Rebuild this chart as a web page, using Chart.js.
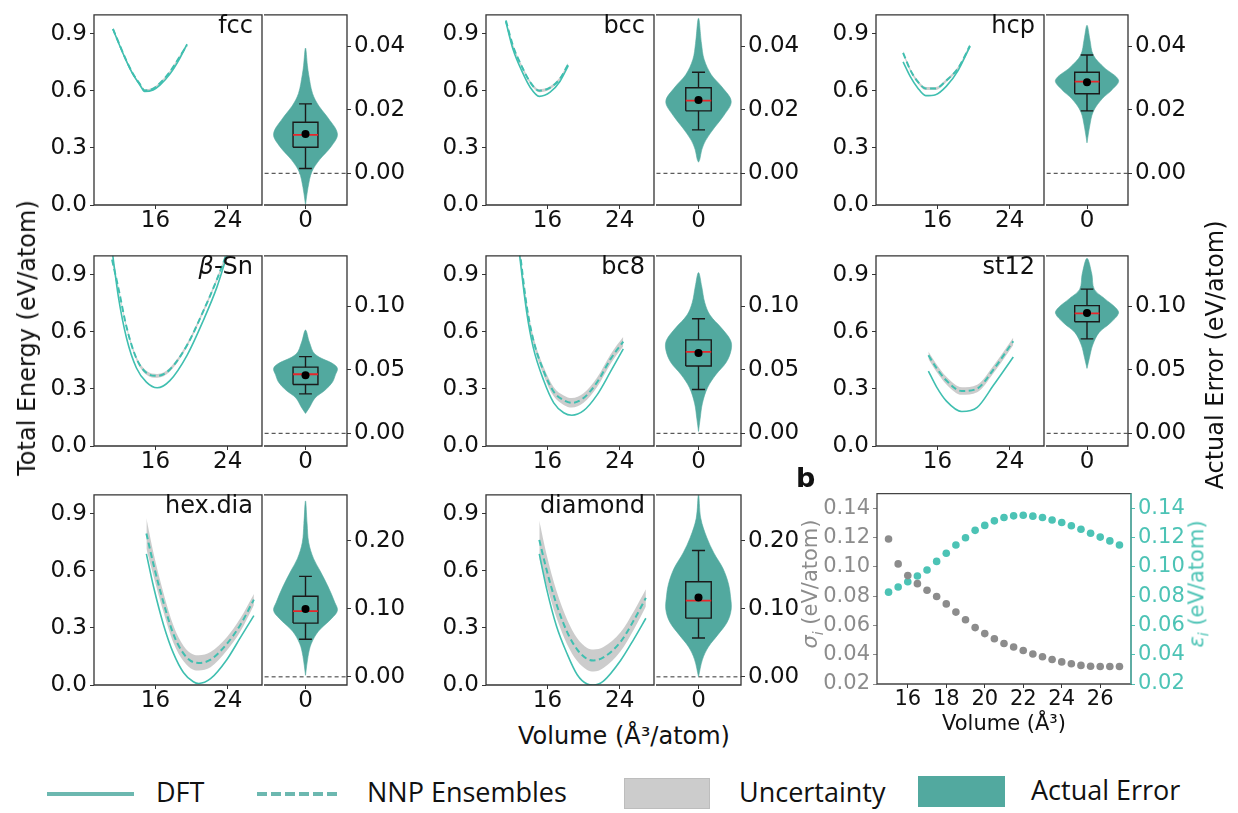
<!DOCTYPE html>
<html><head><meta charset="utf-8">
<script src="https://cdn.jsdelivr.net/npm/chart.js@4.4.1/dist/chart.umd.min.js"></script>
<style>
html,body{margin:0;padding:0;background:#fff;}
#fig{position:relative;width:1238px;height:813px;overflow:hidden;background:#fff;font-family:"DejaVu Sans",sans-serif;color:#111;}
#fig canvas{position:absolute;}
.t{position:absolute;white-space:nowrap;}
.c{position:absolute;white-space:nowrap;transform:translate(-50%,-50%);}
.rot{position:absolute;white-space:nowrap;transform:translate(-50%,-50%) rotate(-90deg);}
.tag{position:absolute;white-space:nowrap;font-size:24px;line-height:28px;text-align:right;}
.lg{position:absolute;white-space:nowrap;font-family:"Open Sans",sans-serif;font-size:27px;line-height:32px;color:#111;}
</style></head><body><div id="fig"></div>
<script>
// ---------------- DATA ----------------
// Energy-volume curves: volume (Å^3/atom), DFT energy, NNP ensemble mean, uncertainty half-width (eV/atom)
const fccVolume = [11.3, 12.05, 12.8, 13.5, 14.3, 14.8, 15.75, 16.5, 17.6, 18.7, 19.5];
const fccDFT    = [0.924, 0.837, 0.755, 0.688, 0.630, 0.597, 0.605, 0.630, 0.688, 0.771, 0.846];
const fccNNP    = [0.926, 0.840, 0.758, 0.691, 0.634, 0.602, 0.612, 0.640, 0.700, 0.781, 0.840];
const fccUnc    = [0.006, 0.006, 0.006, 0.006, 0.006, 0.006, 0.006, 0.006, 0.006, 0.006, 0.006];

const bccVolume = [11.4, 12.2, 13.2, 14.1, 15.1, 16.3, 17.4, 18.3];
const bccDFT    = [0.963, 0.817, 0.701, 0.618, 0.571, 0.593, 0.651, 0.731];
const bccNNP    = [0.970, 0.835, 0.725, 0.645, 0.601, 0.617, 0.665, 0.740];
const bccUnc    = [0.008, 0.008, 0.008, 0.008, 0.008, 0.008, 0.008, 0.008];

const hcpVolume = [12.2, 13.0, 13.8, 14.7, 15.8, 17.0, 18.3, 19.6];
const hcpDFT    = [0.753, 0.675, 0.617, 0.575, 0.580, 0.625, 0.708, 0.833];
const hcpNNP    = [0.800, 0.710, 0.650, 0.613, 0.613, 0.655, 0.720, 0.837];
const hcpUnc    = [0.008, 0.008, 0.008, 0.008, 0.008, 0.008, 0.008, 0.008];

const bsnVolume = [11.2, 11.9, 12.8, 13.9, 15.0, 16.2, 17.6, 19.5, 21.3, 22.8, 23.8, 24.3];
const bsnDFT    = [1.030, 0.784, 0.568, 0.410, 0.336, 0.306, 0.344, 0.477, 0.660, 0.834, 0.983, 1.060];
const bsnNNP    = [0.980, 0.830, 0.626, 0.460, 0.385, 0.369, 0.402, 0.530, 0.709, 0.875, 1.000, 1.070];
const bsnUnc    = [0.010, 0.010, 0.010, 0.010, 0.010, 0.010, 0.010, 0.010, 0.010, 0.010, 0.010, 0.010];

const bc8Volume = [12.8, 13.7, 14.4, 15.6, 16.7, 17.8, 18.7, 20.0, 21.5, 23.0, 24.4];
const bc8DFT    = [1.050, 0.705, 0.524, 0.343, 0.227, 0.175, 0.162, 0.186, 0.269, 0.392, 0.511];
const bc8NNP    = [1.080, 0.738, 0.565, 0.392, 0.285, 0.241, 0.227, 0.252, 0.335, 0.458, 0.549];
const bc8Unc    = [0.020, 0.020, 0.020, 0.022, 0.024, 0.025, 0.025, 0.025, 0.025, 0.025, 0.025];

const st12Volume = [15.0, 15.9, 17.0, 18.7, 20.4, 22.2, 24.4];
const st12DFT    = [0.394, 0.311, 0.236, 0.181, 0.203, 0.319, 0.468];
const st12NNP    = [0.477, 0.410, 0.344, 0.289, 0.302, 0.402, 0.551];
const st12Unc    = [0.020, 0.020, 0.020, 0.020, 0.020, 0.020, 0.020];

const hexVolume = [15.0, 15.8, 16.9, 18.0, 19.1, 20.2, 20.8, 22.1, 23.9, 25.4, 26.9];
const hexDFT    = [0.689, 0.515, 0.316, 0.166, 0.066, 0.017, 0.008, 0.033, 0.133, 0.249, 0.365];
const hexNNP    = [0.797, 0.631, 0.432, 0.266, 0.166, 0.120, 0.116, 0.133, 0.216, 0.316, 0.449];
const hexUnc    = [0.080, 0.060, 0.050, 0.045, 0.040, 0.040, 0.040, 0.040, 0.035, 0.035, 0.030];

const diaVolume = [15.1, 15.9, 17.0, 18.2, 19.3, 20.4, 21.1, 22.2, 24.1, 25.6, 26.9];
const diaDFT    = [0.689, 0.508, 0.310, 0.162, 0.054, 0.005, 0.000, 0.021, 0.129, 0.244, 0.351];
const diaNNP    = [0.763, 0.607, 0.425, 0.277, 0.186, 0.137, 0.129, 0.145, 0.227, 0.343, 0.458];
const diaUnc    = [0.100, 0.080, 0.070, 0.065, 0.060, 0.058, 0.058, 0.055, 0.050, 0.048, 0.045];

// Actual-error violins: sampled error values (eV/atom, high to low) and normalised density
const fccViolinValue   = [0.0395, 0.034, 0.0311, 0.0252, 0.0212, 0.0173, 0.0124, 0.0084, 0.0044, 0.0005, -0.0044, -0.0099];
const fccViolinDensity = [0, 0.06, 0.10, 0.22, 0.42, 0.72, 1.0, 0.80, 0.45, 0.20, 0.08, 0];
const bccViolinValue   = [0.0489, 0.041, 0.036, 0.0311, 0.0272, 0.0227, 0.0183, 0.0143, 0.0104, 0.0074, 0.0044, 0.0035];
const bccViolinDensity = [0, 0.09, 0.17, 0.39, 0.72, 1.0, 0.78, 0.48, 0.22, 0.10, 0.04, 0];
const hcpViolinValue   = [0.0467, 0.0423, 0.0373, 0.0334, 0.0294, 0.0264, 0.0235, 0.0195, 0.0146, 0.0096];
const hcpViolinDensity = [0, 0.09, 0.20, 0.54, 1.0, 0.80, 0.48, 0.20, 0.08, 0];
const bsnViolinValue   = [0.0814, 0.072, 0.0623, 0.0549, 0.0512, 0.0463, 0.0402, 0.034, 0.0279, 0.0206, 0.0157];
const bsnViolinDensity = [0, 0.12, 0.30, 0.86, 1.0, 0.94, 0.84, 0.61, 0.30, 0.13, 0];
const bc8ViolinValue   = [0.1268, 0.1156, 0.1032, 0.0933, 0.0834, 0.0734, 0.066, 0.0561, 0.0462, 0.0362, 0.0238, 0.0114, 0.0015];
const bc8ViolinDensity = [0, 0.10, 0.19, 0.35, 0.69, 0.98, 1.0, 0.85, 0.53, 0.28, 0.12, 0.05, 0];
const st12ViolinValue   = [0.138, 0.126, 0.1137, 0.1064, 0.099, 0.0946, 0.0868, 0.0794, 0.0696, 0.0598, 0.0512];
const st12ViolinDensity = [0, 0.15, 0.23, 0.55, 0.91, 1.0, 0.73, 0.38, 0.18, 0.08, 0];
const hexViolinValue   = [0.259, 0.2256, 0.1977, 0.1744, 0.1558, 0.1326, 0.1093, 0.0977, 0.086, 0.0674, 0.0488, 0.0302, 0.0023];
const hexViolinDensity = [0, 0.05, 0.10, 0.25, 0.46, 0.71, 0.92, 1.0, 0.82, 0.41, 0.18, 0.08, 0];
const diaViolinValue   = [0.268, 0.2333, 0.2055, 0.1824, 0.1594, 0.1363, 0.1178, 0.0993, 0.0808, 0.0624, 0.0439, 0.0254, 0.0];
const diaViolinDensity = [0, 0.07, 0.25, 0.47, 0.75, 0.92, 0.98, 1.0, 0.88, 0.60, 0.30, 0.12, 0];

// Box statistics: [whisker low, Q1, median, Q3, whisker high] and mean
const fccBox  = [0.0015, 0.0082, 0.0121, 0.0161, 0.0219]; const fccMean  = 0.0124;
const bccBox  = [0.0137, 0.0197, 0.0229, 0.0270, 0.0319]; const bccMean  = 0.0231;
const hcpBox  = [0.0197, 0.0251, 0.0289, 0.0319, 0.0373]; const hcpMean  = 0.0287;
const bsnBox  = [0.0311, 0.0385, 0.0466, 0.0522, 0.0605]; const bsnMean  = 0.0458;
const bc8Box  = [0.0345, 0.0531, 0.0643, 0.0737, 0.0903]; const bc8Mean  = 0.0633;
const st12Box = [0.0745, 0.0880, 0.0946, 0.1007, 0.1137]; const st12Mean = 0.0949;
const hexBox  = [0.0553, 0.0791, 0.0967, 0.1186, 0.1479]; const hexMean  = 0.1000;
const diaBox  = [0.0573, 0.0864, 0.1122, 0.1400, 0.1861]; const diaMean  = 0.1169;

// Panel b: per-volume uncertainty sigma_i and actual error epsilon_i
const bVolume  = [15, 15.5, 16, 16.5, 17, 17.5, 18, 18.5, 19, 19.5, 20, 20.5, 21, 21.5, 22, 22.5, 23, 23.5, 24, 24.5, 25, 25.5, 26, 26.5, 27];
const bSigma   = [0.119, 0.102, 0.094, 0.0885, 0.084, 0.0797, 0.0747, 0.0691, 0.0639, 0.0585, 0.0544, 0.0509, 0.0477, 0.0453, 0.0429, 0.0405, 0.0386, 0.0367, 0.0351, 0.0338, 0.0327, 0.0321, 0.0319, 0.0319, 0.0319];
const bEpsilon = [0.0827, 0.0862, 0.0898, 0.0937, 0.0978, 0.1037, 0.1093, 0.1149, 0.1199, 0.1249, 0.1283, 0.1314, 0.1337, 0.1348, 0.1352, 0.1346, 0.1337, 0.1320, 0.1303, 0.1281, 0.1257, 0.1229, 0.1203, 0.1177, 0.1149];

// Tick labels
const energyXTicks = [16, 24];
const energyYTicks = [0.0, 0.3, 0.6, 0.9];
const errorTicksRow1 = [0.00, 0.02, 0.04];
const errorTicksRow2 = [0.00, 0.05, 0.10];
const errorTicksRow3 = [0.00, 0.10, 0.20];
const violinXTicks = [0];
const bXTicks = [16, 18, 20, 22, 24, 26];
const bYTicks = [0.02, 0.04, 0.06, 0.08, 0.10, 0.12, 0.14];

// ---------------- LAYOUT / STYLE ----------------
const TEAL = '#40bfb0', VIOLIN = '#52a99f', BAND = 'rgba(195,195,195,0.85)';
const GRAYB = '#8c8c8c', TEALB = '#4cc3b5';
const cols = [{left:94, div:262, right:347}, {left:486, div:654, right:741}, {left:876, div:1044, right:1128}];
const rows = [{top:4, bottom:205, range:[-0.01, 0.05], ticks:errorTicksRow1},
              {top:245, bottom:446, range:[-0.01, 0.14], ticks:errorTicksRow2},
              {top:484, bottom:685, range:[-0.012, 0.268], ticks:errorTicksRow3}];

const panels = [
  {tag:'fcc', col:0,row:0, vol:fccVolume, dft:fccDFT, nnp:fccNNP, unc:fccUnc, vv:fccViolinValue, vd:fccViolinDensity, box:fccBox, mean:fccMean},
  {tag:'bcc', col:1,row:0, vol:bccVolume, dft:bccDFT, nnp:bccNNP, unc:bccUnc, vv:bccViolinValue, vd:bccViolinDensity, box:bccBox, mean:bccMean},
  {tag:'hcp', col:2,row:0, vol:hcpVolume, dft:hcpDFT, nnp:hcpNNP, unc:hcpUnc, vv:hcpViolinValue, vd:hcpViolinDensity, box:hcpBox, mean:hcpMean},
  {tag:'<i>β</i>-Sn', col:0,row:1, vol:bsnVolume, dft:bsnDFT, nnp:bsnNNP, unc:bsnUnc, vv:bsnViolinValue, vd:bsnViolinDensity, box:bsnBox, mean:bsnMean},
  {tag:'bc8', col:1,row:1, vol:bc8Volume, dft:bc8DFT, nnp:bc8NNP, unc:bc8Unc, vv:bc8ViolinValue, vd:bc8ViolinDensity, box:bc8Box, mean:bc8Mean},
  {tag:'st12', col:2,row:1, vol:st12Volume, dft:st12DFT, nnp:st12NNP, unc:st12Unc, vv:st12ViolinValue, vd:st12ViolinDensity, box:st12Box, mean:st12Mean},
  {tag:'hex.dia', col:0,row:2, vol:hexVolume, dft:hexDFT, nnp:hexNNP, unc:hexUnc, vv:hexViolinValue, vd:hexViolinDensity, box:hexBox, mean:hexMean},
  {tag:'diamond', col:1,row:2, vol:diaVolume, dft:diaDFT, nnp:diaNNP, unc:diaUnc, vv:diaViolinValue, vd:diaViolinDensity, box:diaBox, mean:diaMean}
];

Chart.defaults.font.family = '"DejaVu Sans", sans-serif';
Chart.defaults.color = '#111';

const fig = document.getElementById('fig');
function makeCanvas(left, top, w, h) {
  const c = document.createElement('canvas');
  c.width = w; c.height = h;
  c.style.left = left + 'px'; c.style.top = top + 'px';
  c.style.width = w + 'px'; c.style.height = h + 'px';
  fig.appendChild(c);
  return c;
}
function addDiv(cls, html, css) {
  const d = document.createElement('div');
  d.className = cls; d.innerHTML = html;
  Object.assign(d.style, css);
  fig.appendChild(d);
  return d;
}
// frame around the plotting area; 'noLeft' skips the shared divider edge
const framePlugin = {
  id: 'frame',
  afterDraw(chart, args, opts) {
    const a = chart.chartArea, ctx = chart.ctx;
    ctx.save();
    ctx.lineWidth = 1.3;
    ctx.strokeStyle = opts.color || '#333';
    ctx.beginPath();
    if (opts.noLeft) {
      ctx.moveTo(a.left, a.top); ctx.lineTo(a.right, a.top); ctx.lineTo(a.right, a.bottom); ctx.lineTo(a.left, a.bottom);
    } else {
      ctx.rect(a.left, a.top, a.right - a.left, a.bottom - a.top);
    }
    ctx.stroke();
    if (opts.rightColor) {
      ctx.strokeStyle = opts.rightColor;
      ctx.beginPath(); ctx.moveTo(a.right, a.top); ctx.lineTo(a.right, a.bottom); ctx.stroke();
    }
    ctx.restore();
  }
};
const fixedTicks = arr => (s => { s.ticks = arr.map(v => ({value: v})); });
const tickGrid = color => ({drawOnChartArea: false, drawTicks: true, tickLength: 4, color: color || '#333', lineWidth: 1});
const baseOpts = () => ({responsive: false, animation: false, events: [],
  plugins: {legend: {display: false}, tooltip: {enabled: false}, frame: {}}});

function energyChart(p) {
  const g = cols[p.col], r = rows[p.row];
  const LW = 60, TP = 6, RP = 2, BH = 34;
  const w = LW + (g.div - g.left) + RP, h = TP + (r.bottom - r.top) + BH;
  const cv = makeCanvas(g.left - LW, r.top - TP, w, h);
  const pts = ys => p.vol.map((v, i) => ({x: v, y: ys[i]}));
  const up = p.vol.map((v, i) => ({x: v, y: p.nnp[i] + p.unc[i]}));
  const lo = p.vol.map((v, i) => ({x: v, y: p.nnp[i] - p.unc[i]}));
  const o = baseOpts();
  o.layout = {padding: {top: TP, right: RP, left: 0, bottom: 0}};
  o.scales = {
    x: {type: 'linear', min: 9.2, max: 27.8, afterFit: s => { s.height = BH; }, afterBuildTicks: fixedTicks(energyXTicks),
        ticks: {font: {size: 23, lineHeight: 1}, padding: 1, maxRotation: 0, autoSkip: false, callback: v => String(v)},
        grid: tickGrid(), border: {display: false}},
    y: {type: 'linear', min: 0, max: 1.0, afterFit: s => { s.width = LW; }, afterBuildTicks: fixedTicks(energyYTicks),
        ticks: {font: {size: 23}, padding: 3, autoSkip: false, callback: v => v.toFixed(1)},
        grid: tickGrid(), border: {display: false}}
  };
  new Chart(cv, {
    type: 'line',
    data: {datasets: [
      {data: pts(p.dft), borderColor: TEAL, borderWidth: 1.6, pointRadius: 0, fill: false, cubicInterpolationMode: 'monotone'},
      {data: pts(p.nnp), borderColor: TEAL, borderWidth: 2, borderDash: [6, 3.5], pointRadius: 0, fill: false, cubicInterpolationMode: 'monotone'},
      {data: up, borderColor: 'rgba(0,0,0,0)', borderWidth: 0, pointRadius: 0, fill: '+1', backgroundColor: BAND, cubicInterpolationMode: 'monotone'},
      {data: lo, borderColor: 'rgba(0,0,0,0)', borderWidth: 0, pointRadius: 0, fill: false, cubicInterpolationMode: 'monotone'}
    ]},
    options: o,
    plugins: [framePlugin]
  });
  // structure tag
  addDiv('tag', p.tag, {right: (1238 - (g.div - 9)) + 'px', top: (r.top + 29 - 22.3) + 'px'});
}

function violinPolygon(values, dens) {
  const right = values.map((v, i) => ({x: dens[i], y: v})).reverse();
  const left = values.map((v, i) => ({x: -dens[i], y: v}));
  return right.concat(left.slice(1));
}

function violinChart(p) {
  const g = cols[p.col], r = rows[p.row];
  const LP = 2, TP = 6, RW = 62, BH = 34;
  const w = LP + (g.right - g.div) + RW, h = TP + (r.bottom - r.top) + BH;
  const cv = makeCanvas(g.div - LP, r.top - TP, w, h);
  const [wl, q1, med, q3, wh] = p.box;
  const B = 0.39, C = 0.2;
  const o = baseOpts();
  o.plugins.frame = {noLeft: true};
  o.layout = {padding: {top: TP, right: 0, left: LP, bottom: 0}};
  o.scales = {
    x: {type: 'linear', min: -1.3, max: 1.3, afterFit: s => { s.height = BH; }, afterBuildTicks: fixedTicks(violinXTicks),
        ticks: {font: {size: 23, lineHeight: 1}, padding: 1, maxRotation: 0, autoSkip: false, callback: v => String(v)},
        grid: tickGrid(), border: {display: false}},
    y: {type: 'linear', position: 'right', min: r.range[0], max: r.range[1], afterFit: s => { s.width = RW; },
        afterBuildTicks: fixedTicks(r.ticks),
        ticks: {font: {size: 23}, padding: 3, autoSkip: false, callback: v => v.toFixed(2)},
        grid: tickGrid(), border: {display: false}}
  };
  new Chart(cv, {
    type: 'line',
    data: {datasets: [
      {data: [{x: 0, y: p.mean}], showLine: false, pointRadius: 4, pointBackgroundColor: '#000', pointBorderWidth: 0},
      {data: [{x: -B, y: med}, {x: B, y: med}], borderColor: '#e8262a', borderWidth: 1.8, pointRadius: 0, fill: false},
      {data: [{x: -B, y: q1}, {x: B, y: q1}, {x: B, y: q3}, {x: -B, y: q3}, {x: -B, y: q1}], borderColor: '#1a1a1a', borderWidth: 1.4, pointRadius: 0, fill: false, tension: 0},
      {data: [{x: 0, y: q3}, {x: 0, y: wh}, {x: 0, y: null}, {x: 0, y: q1}, {x: 0, y: wl}, {x: 0, y: null},
              {x: -C, y: wh}, {x: C, y: wh}, {x: 0, y: null}, {x: -C, y: wl}, {x: C, y: wl}],
       borderColor: '#1a1a1a', borderWidth: 1.4, pointRadius: 0, fill: false, spanGaps: false},
      {data: violinPolygon(p.vv, p.vd), fill: 'shape', backgroundColor: VIOLIN, borderColor: VIOLIN, borderWidth: 0.6, pointRadius: 0, tension: 0.35},
      {data: [{x: -1.5, y: 0}, {x: 1.5, y: 0}], borderColor: '#333', borderWidth: 1, borderDash: [4, 3], pointRadius: 0, fill: false}
    ]},
    options: o,
    plugins: [framePlugin]
  });
}

panels.forEach(p => { energyChart(p); violinChart(p); });

// Panel b
(function () {
  const L = 877, R = 1131, T = 484, Bt = 684;
  const LW = 57, RW = 58, TP = 6, BH = 30;
  const cv = makeCanvas(L - LW, T - TP, LW + (R - L) + RW, TP + (Bt - T) + BH);
  const o = baseOpts();
  o.layout = {padding: {top: TP, right: 0, left: 0, bottom: 0}};
  o.plugins.frame = {color: '#444', rightColor: TEALB};
  o.scales = {
    x: {type: 'linear', min: 14.4, max: 27.6, afterFit: s => { s.height = BH; }, afterBuildTicks: fixedTicks(bXTicks),
        ticks: {font: {size: 21, lineHeight: 1}, padding: 1, maxRotation: 0, autoSkip: false, callback: v => String(v)},
        grid: tickGrid(), border: {display: false}},
    y: {type: 'linear', position: 'left', min: 0.02, max: 0.15, afterFit: s => { s.width = LW; }, afterBuildTicks: fixedTicks(bYTicks),
        ticks: {font: {size: 21}, padding: 3, color: GRAYB, autoSkip: false, callback: v => v.toFixed(2)},
        grid: tickGrid(GRAYB), border: {display: false}},
    y2: {type: 'linear', position: 'right', min: 0.02, max: 0.15, afterFit: s => { s.width = RW; }, afterBuildTicks: fixedTicks(bYTicks),
        ticks: {font: {size: 21}, padding: 3, color: TEALB, autoSkip: false, callback: v => v.toFixed(2)},
        grid: tickGrid(TEALB), border: {display: false}}
  };
  new Chart(cv, {
    type: 'line',
    data: {datasets: [
      {data: bVolume.map((v, i) => ({x: v, y: bSigma[i]})), yAxisID: 'y', showLine: false, pointRadius: 3.8, pointBackgroundColor: GRAYB, pointBorderWidth: 0},
      {data: bVolume.map((v, i) => ({x: v, y: bEpsilon[i]})), yAxisID: 'y2', showLine: false, pointRadius: 3.8, pointBackgroundColor: TEALB, pointBorderWidth: 0}
    ]},
    options: o,
    plugins: [framePlugin]
  });
})();

// Axis titles and annotations
addDiv('rot', 'Total Energy (eV/atom)', {left: '27px', top: '338px', fontSize: '24px'});
addDiv('rot', 'Actual Error (eV/atom)', {left: '1215px', top: '355px', fontSize: '24px'});
addDiv('c', 'Volume (Å³/atom)', {left: '624px', top: '736px', fontSize: '24px'});
addDiv('t', 'b', {left: '796px', top: '462px', fontSize: '27px', fontWeight: 'bold'});
addDiv('rot', '<i>σ<sub style="font-size:14px">i</sub></i> (eV/atom)', {left: '812px', top: '584px', fontSize: '21px', color: GRAYB});
addDiv('rot', '<i>ε<sub style="font-size:14px">i</sub></i> (eV/atom)', {left: '1198px', top: '584px', fontSize: '21px', color: TEALB});
addDiv('c', 'Volume (Å³)', {left: '1004px', top: '723px', fontSize: '21px'});

// Figure legend
addDiv('t', '', {left: '47px', top: '792px', width: '87px', height: '4px', background: '#6cb8b0'});
addDiv('lg', 'DFT', {left: '156px', top: '776px'});
addDiv('t', '', {left: '257px', top: '792px', width: '84px', height: '4px',
  background: 'repeating-linear-gradient(90deg,#6cb8b0 0 10px,transparent 10px 14px)'});
addDiv('lg', 'NNP Ensembles', {left: '367px', top: '776px'});
addDiv('t', '', {left: '624px', top: '778px', width: '86px', height: '31px', background: '#cccccc', boxSizing: 'border-box', border: '1px solid #bdbdbd'});
addDiv('lg', 'Uncertainty', {left: '739px', top: '776px'});
addDiv('t', '', {left: '918px', top: '776px', width: '87px', height: '31px', background: VIOLIN});
addDiv('lg', 'Actual Error', {left: '1031px', top: '774px'});
</script></body></html>
